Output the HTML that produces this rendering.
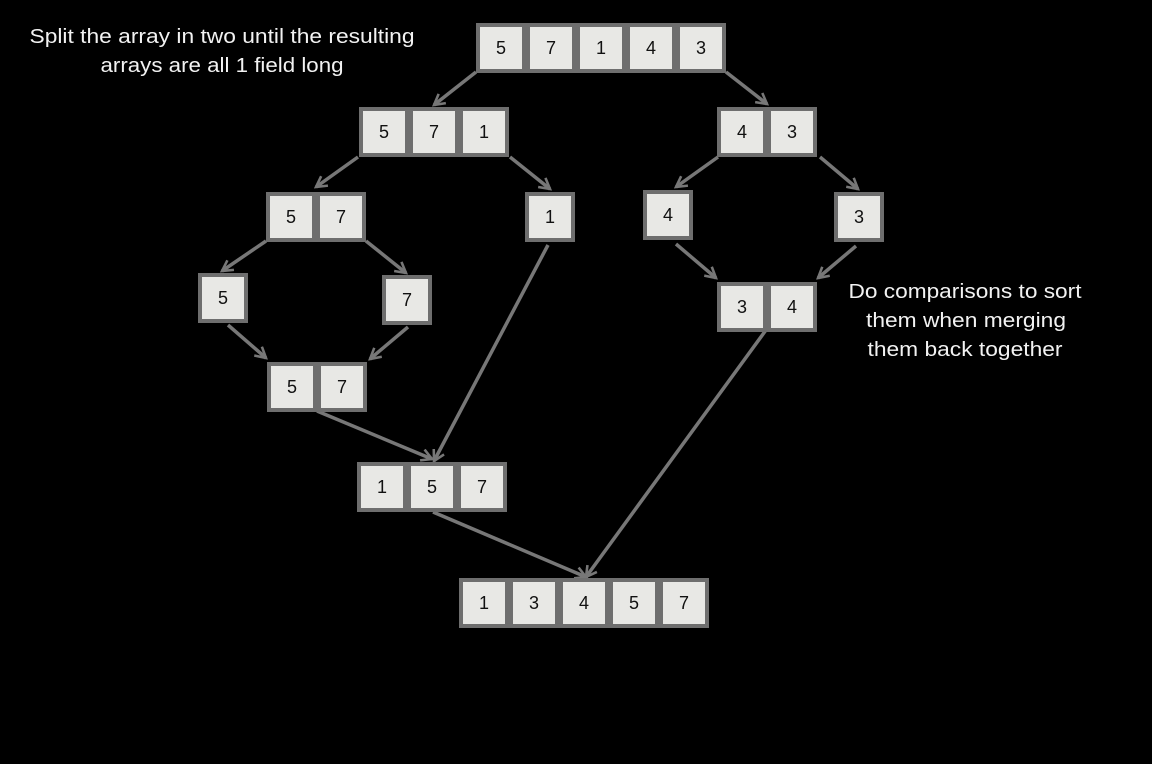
<!DOCTYPE html>
<html><head><meta charset="utf-8"><style>
html,body{margin:0;padding:0;background:#000;width:1152px;height:764px;overflow:hidden}
svg{display:block}
text{font-family:"Liberation Sans",sans-serif}
.c{fill:#e8e8e5;stroke:#6e6e6e;stroke-width:4}
.n{font-size:18px;fill:#111;text-anchor:middle;dominant-baseline:central}
.l{stroke:#777;stroke-width:3.5;fill:none}
.t{font-size:20px;fill:#f2f2f2;text-anchor:middle}
</style></head><body>
<svg width="1152" height="764" viewBox="0 0 1152 764">
<defs>
<marker id="a" viewBox="0 0 12 12" refX="10" refY="6" markerWidth="14" markerHeight="14" markerUnits="userSpaceOnUse" orient="auto">
<path d="M1,1 L10,6 L1,11" fill="none" stroke="#777" stroke-width="2.2"/>
</marker>
</defs>
<g id="lines">
<line class="l" x1="476" y1="72" x2="434" y2="105" marker-end="url(#a)"/>
<line class="l" x1="726" y1="72" x2="767" y2="104" marker-end="url(#a)"/>
<line class="l" x1="358" y1="157" x2="316" y2="187" marker-end="url(#a)"/>
<line class="l" x1="510" y1="157" x2="550" y2="189" marker-end="url(#a)"/>
<line class="l" x1="718" y1="157" x2="676" y2="187" marker-end="url(#a)"/>
<line class="l" x1="820" y1="157" x2="858" y2="189" marker-end="url(#a)"/>
<line class="l" x1="266" y1="241" x2="222" y2="271" marker-end="url(#a)"/>
<line class="l" x1="366" y1="241" x2="406" y2="273" marker-end="url(#a)"/>
<line class="l" x1="676" y1="244" x2="716" y2="278" marker-end="url(#a)"/>
<line class="l" x1="856" y1="246" x2="818" y2="278" marker-end="url(#a)"/>
<line class="l" x1="228" y1="325" x2="266" y2="358" marker-end="url(#a)"/>
<line class="l" x1="408" y1="327" x2="370" y2="359" marker-end="url(#a)"/>
<line class="l" x1="548" y1="245" x2="434" y2="461" marker-end="url(#a)"/>
<line class="l" x1="317" y1="411" x2="432" y2="459" marker-end="url(#a)"/>
<line class="l" x1="766" y1="330" x2="586" y2="577" marker-end="url(#a)"/>
<line class="l" x1="433" y1="512" x2="586" y2="577" marker-end="url(#a)"/>
</g>
<g id="cells"></g>
<text class="t" x="222" y="43" textLength="385" lengthAdjust="spacingAndGlyphs">Split the array in two until the resulting</text>
<text class="t" x="222" y="72" textLength="243" lengthAdjust="spacingAndGlyphs">arrays are all 1 field long</text>
<text class="t" x="965" y="298" textLength="233" lengthAdjust="spacingAndGlyphs">Do comparisons to sort</text>
<text class="t" x="966" y="327" textLength="200" lengthAdjust="spacingAndGlyphs">them when merging</text>
<text class="t" x="965" y="356" textLength="195" lengthAdjust="spacingAndGlyphs">them back together</text>
</svg>
<script>
var rows=[[476,23,"57143"],[359,107,"571"],[717,107,"43"],[266,192,"57"],[525,192,"1"],[643,190,"4"],[834,192,"3"],[198,273,"5"],[382,275,"7"],[717,282,"34"],[267,362,"57"],[357,462,"157"],[459,578,"13457"]];
var g=document.getElementById("cells"),h="";
rows.forEach(function(r){for(var i=0;i<r[2].length;i++){var x=r[0]+i*50+2,y=r[1]+2;
h+='<rect class="c" x="'+x+'" y="'+y+'" width="46" height="46"/><text class="n" x="'+(x+23)+'" y="'+(y+23)+'">'+r[2][i]+'</text>';}});
g.innerHTML=h;
</script>
</body></html>
